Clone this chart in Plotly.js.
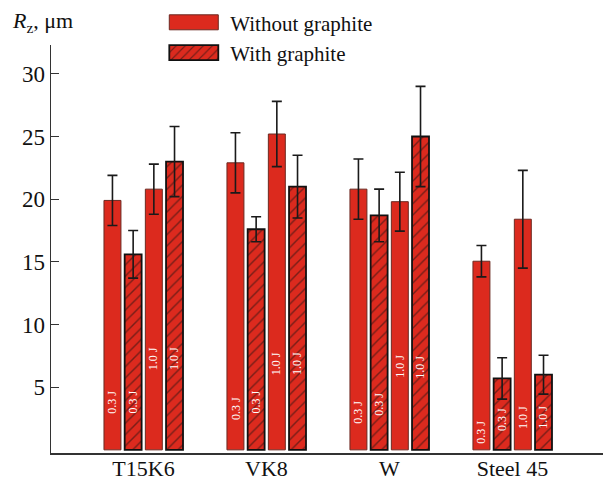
<!DOCTYPE html>
<html>
<head>
<meta charset="utf-8">
<script src="https://cdn.plot.ly/plotly-3.0.1.min.js"></script>
<style>html,body{margin:0;padding:0;background:#fff;}</style>
</head>
<body>
<div id="chart" style="width:605px;height:483px;"></div>
<script>
// ---- data ----
const categories = ["T15K6", "VK8", "W", "Steel 45"];
const without03 = [19.9, 22.9, 20.8, 15.05];
const without03Err = [2.0, 2.4, 2.4, 1.25];
const with03 = [15.6, 17.6, 18.7, 5.7];
const with03Err = [1.9, 1.0, 2.1, 1.65];
const without10 = [20.8, 25.2, 19.8, 18.4];
const without10Err = [2.0, 2.6, 2.35, 3.9];
const with10 = [23.0, 21.0, 25.0, 6.0];
const with10Err = [2.8, 2.5, 4.0, 1.55];
const energyLabels = ["0.3 J", "0.3 J", "1.0 J", "1.0 J"];
const yTicks = [5, 10, 15, 20, 25, 30];

// ---- styles ----
const RED = "#dc2a1e";
const FONT = "Liberation Serif";
const bargap = 0.327, bargroupgap = 0.18;
const errStyle = {type: "data", color: "#1a1a1a", thickness: 1.6, width: 5, visible: true};

function solid(name, y, err, show) {
  return {type: "bar", x: categories, y: y, name: name, legendgroup: "without", showlegend: show,
    marker: {color: RED, line: {color: "#6b2a22", width: 1}},
    error_y: Object.assign({array: err}, errStyle), hoverinfo: "y"};
}
function hatched(name, y, err, show) {
  return {type: "bar", x: categories, y: y, name: name, legendgroup: "with", showlegend: show,
    marker: {color: RED, line: {color: "#111", width: 1.8},
      pattern: {shape: "/", fgcolor: "#111", bgcolor: RED, size: 8, solidity: 0.18, fillmode: "overlay"}},
    error_y: Object.assign({array: err}, errStyle), hoverinfo: "y"};
}

const traces = [
  solid("Without graphite", without03, without03Err, true),
  hatched("With graphite", with03, with03Err, true),
  solid("Without graphite", without10, without10Err, false),
  hatched("With graphite", with10, with10Err, false)
];

// energy labels inside bars (vertical positions of the text)
const labelY = [
  [3.8, 3.8, 7.3, 7.3],
  [3.3, 3.8, 6.9, 6.9],
  [3.0, 3.6, 6.7, 6.6],
  [1.4, 2.4, 2.6, 2.6]
];
const slot = (1 - bargap) / 4;
const annotations = [];
categories.forEach((c, ci) => {
  for (let k = 0; k < 4; k++) {
    annotations.push({x: ci + (k - 1.5) * slot, y: labelY[ci][k], xref: "x", yref: "y",
      text: energyLabels[k], showarrow: false, textangle: -90,
      font: {family: FONT, size: 12, color: "#ffffff"}});
  }
});
annotations.push({xref: "paper", yref: "paper", x: -0.075, y: 1.056, xanchor: "left", yanchor: "middle",
  text: "<i>R</i><sub>z</sub>, μm", showarrow: false, font: {family: FONT, size: 22, color: "#111"}});

const layout = {
  width: 605, height: 483,
  margin: {l: 51, r: 2, t: 43, b: 30},
  paper_bgcolor: "#fff", plot_bgcolor: "#fff",
  barmode: "group", bargap: bargap, bargroupgap: bargroupgap,
  font: {family: FONT, color: "#111"},
  showlegend: true,
  legend: {x: 0.198, y: 1.105, xanchor: "left", yanchor: "top", bgcolor: "rgba(0,0,0,0)",
    font: {family: FONT, size: 21, color: "#111"}, tracegroupgap: 0, itemwidth: 60},
  xaxis: {type: "category", range: [-0.752, 3.736], showgrid: false, zeroline: false,
    showline: true, linecolor: "#333", linewidth: 1.5, ticks: "", ticklabelstandoff: -5,
    tickfont: {family: FONT, size: 22, color: "#111"}, fixedrange: true},
  yaxis: {range: [-0.25, 32.3], showgrid: false, zeroline: false, showline: true,
    linecolor: "#333", linewidth: 1.5, ticks: "inside", ticklen: 8, tickcolor: "#333", tickwidth: 1.2,
    tickvals: yTicks, ticktext: yTicks.map(String),
    tickfont: {family: FONT, size: 23, color: "#111"}, fixedrange: true},
  annotations: annotations
};

Plotly.newPlot("chart", traces, layout, {displayModeBar: false, staticPlot: true}).then(gd => {
  // enlarge legend swatches to match the reference
  gd.querySelectorAll(".legend .traces").forEach(tr => {
    const txt = tr.querySelector(".legendtext");
    const tx = parseFloat(txt.getAttribute("x")) || 40;
    tr.querySelectorAll(".legendpoints path").forEach(p => {
      const right = tx - 12, left = right - 49;
      p.setAttribute("transform", "");
      p.setAttribute("d", "M" + left + ",-7.5H" + right + "V7.5H" + left + "Z");
    });
  });
});
</script>
</body>
</html>
